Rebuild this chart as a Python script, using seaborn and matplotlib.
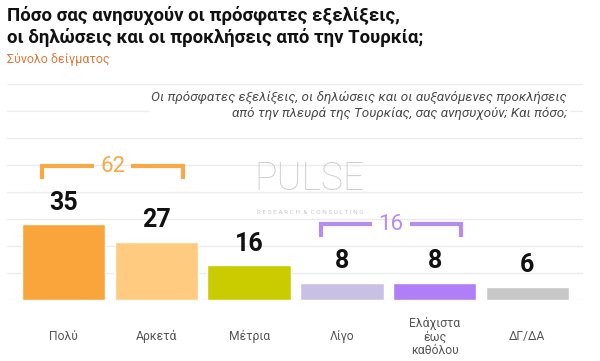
"""
Pulse poll: concern about recent developments with Turkey (bar chart).
"""

import matplotlib

matplotlib.use("Agg")
import matplotlib.pyplot as plt
import seaborn as sns

categories = ["Πολύ", "Αρκετά", "Μέτρια", "Λίγο", "Ελάχιστα\nέως\nκαθόλου", "ΔΓ/ΔΑ"]
values = [35, 27, 16, 8, 8, 6]
bar_colors = ["#F9A53B", "#FECB80", "#CACC00", "#C9C0E6", "#B07EF6", "#C8C8C8"]

# (first bar, last bar, bracket colour)
groups = [(0, 1, "#F7A945"), (3, 4, "#B68CF2")]

title_lines = [
    "Πόσο σας ανησυχούν οι πρόσφατες εξελίξεις,",
    "οι δηλώσεις και οι προκλήσεις από την Τουρκία;",
]
subtitle = "Σύνολο δείγματος"
question = (
    "Οι πρόσφατες εξελίξεις, οι δηλώσεις και οι αυξανόμενες προκλήσεις\n"
    "από την πλευρά της Τουρκίας, σας ανησυχούν; Και πόσο;"
)

sns.set_theme(style="white")
plt.rcParams["font.family"] = ["Roboto", "DejaVu Sans"]

fig = plt.figure(figsize=(6, 3.61), dpi=100)
ax = fig.add_axes([7 / 600, 1 - 300 / 361, 576 / 600, 216 / 361])

sns.barplot(
    x=categories,
    y=values,
    hue=categories,
    palette=bar_colors,
    saturation=1,
    width=0.9,
    legend=False,
    ax=ax,
    zorder=2,
)

for container in ax.containers:
    ax.bar_label(container, fmt="{:.0f}", fontsize=18, fontweight="bold",
                 color="#111111", padding=7)

# group brackets with the combined share
for i, j, col in groups:
    total = sum(values[i:j + 1])
    y = max(values[i:j + 1]) + 27
    x0, x1 = i - 0.23, j + 0.29
    xm = (x0 + x1) / 2
    kw = dict(color=col, lw=3, solid_capstyle="butt", solid_joinstyle="miter", zorder=3)
    ax.plot([x0, x0, xm - 0.2], [y - 6, y, y], **kw)
    ax.plot([xm + 0.2, x1, x1], [y, y, y - 6], **kw)
    ax.text(xm, y, str(total), ha="center", va="center", fontsize=16,
            color=col, zorder=3)

ax.set_xlim(-0.61, 5.6)
ax.set_ylim(0, 100)
ax.set_yticks([k * 12.5 for k in range(9)])
ax.yaxis.grid(True, color="#EBEBEB", lw=1, zorder=0)
ax.set_axisbelow(True)
ax.tick_params(axis="y", left=False, labelleft=False)
ax.tick_params(axis="x", bottom=False, length=0, pad=26.5, labelsize=8.7,
               labelcolor="#555555")
for lbl in ax.get_xticklabels():
    lbl.set_va("center")
    lbl.set_linespacing(1.05)
ax.set_xlabel("")
ax.set_ylabel("")
sns.despine(ax=ax, left=True, bottom=True)

# watermark
fig.text(310 / 600, 1 - 179 / 361, "PULSE", ha="center", va="center", fontsize=27,
         fontweight="light", color="#C9C9CE", alpha=0.9)
fig.text(310 / 600, 1 - 212 / 361, "R E S E A R C H  &  C O N S U L T I N G",
         ha="center", va="center", fontsize=4.6, color="#C9C9CE")

# titles
fig.text(7 / 600, 1 - 21 / 361, title_lines[0], ha="left", va="baseline",
         fontsize=13.4, fontweight="bold", color="#111111")
fig.text(7 / 600, 1 - 43 / 361, title_lines[1], ha="left", va="baseline",
         fontsize=13.4, fontweight="bold", color="#111111")
fig.text(7 / 600, 1 - 63 / 361, subtitle, ha="left", va="baseline",
         fontsize=9, color="#DC7A3C")
fig.text(567 / 600, 1 - 117 / 361, question, ha="right", va="baseline",
         multialignment="right", fontsize=9.7, style="italic", color="#4A4A4A",
         linespacing=1.3,
         bbox=dict(facecolor="white", edgecolor="none", pad=2))

fig.savefig("out.png", dpi=100)
plt.close(fig)
